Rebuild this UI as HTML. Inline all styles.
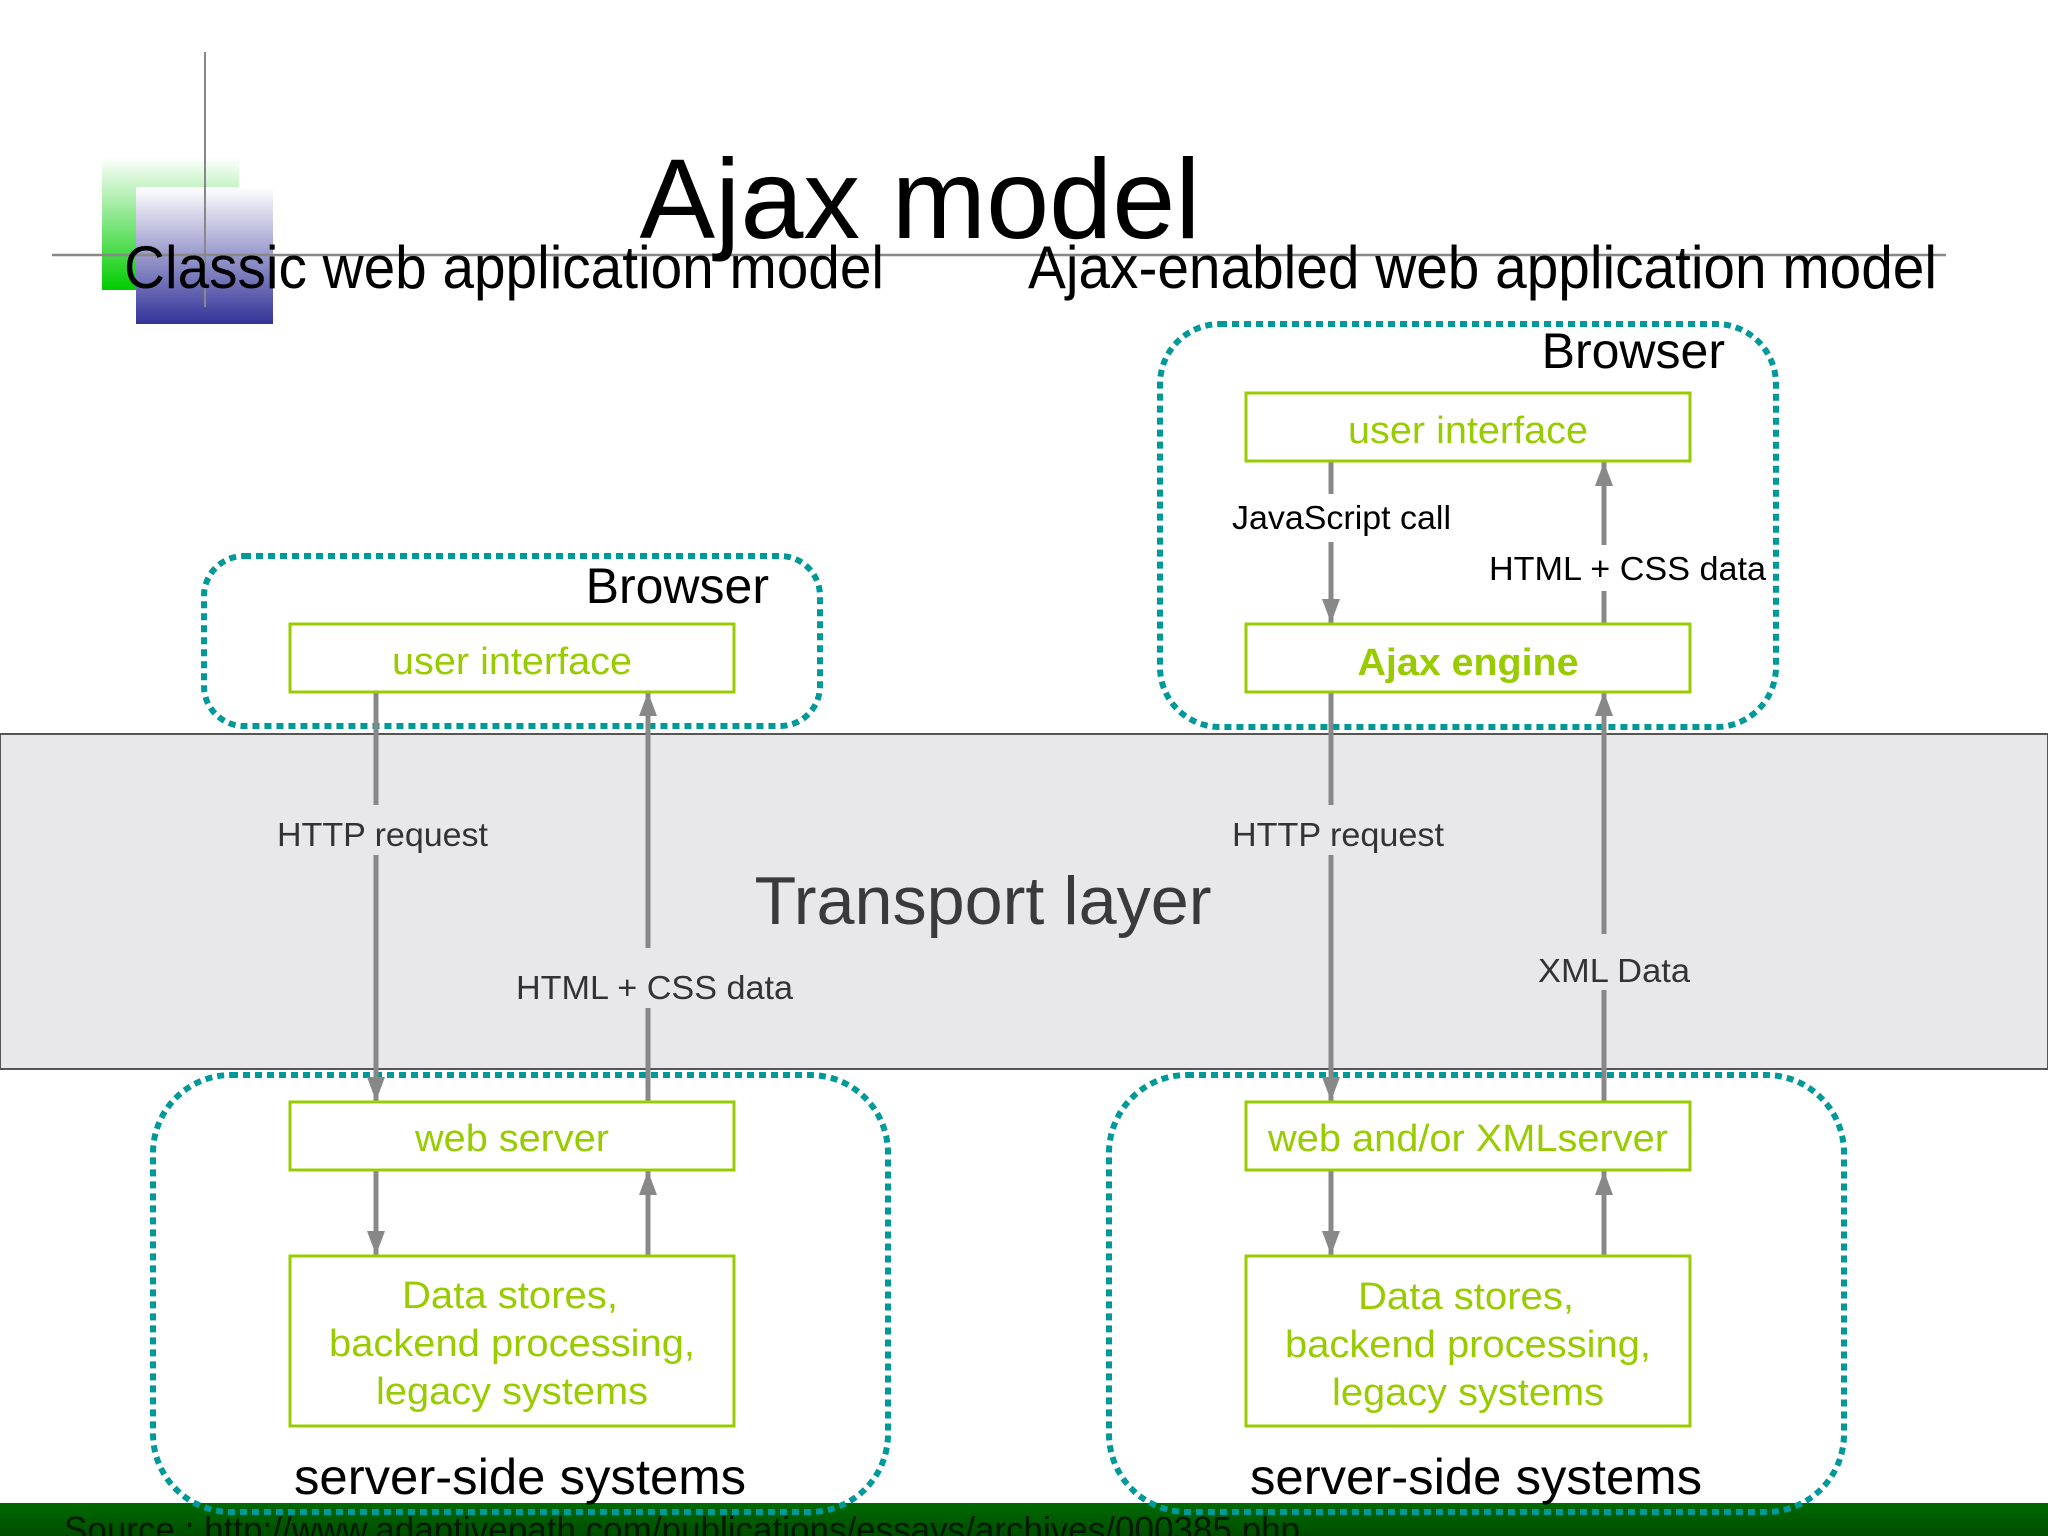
<!DOCTYPE html>
<html><head><meta charset="utf-8"><style>
html,body{margin:0;padding:0;background:#fff}
svg{display:block}
text{font-family:"Liberation Sans",sans-serif}
</style></head><body>
<svg width="2048" height="1536" viewBox="0 0 2048 1536" xmlns="http://www.w3.org/2000/svg">
<defs>
<linearGradient id="gg" x1="0" y1="0" x2="0" y2="1"><stop offset="0" stop-color="#00cc00" stop-opacity="0"/><stop offset="1" stop-color="#00cc00"/></linearGradient>
<linearGradient id="bg" x1="0" y1="0" x2="0" y2="1"><stop offset="0" stop-color="#ffffff"/><stop offset="1" stop-color="#333399"/></linearGradient>
<linearGradient id="fg" x1="0" y1="0" x2="0" y2="1"><stop offset="0" stop-color="#006a00"/><stop offset="1" stop-color="#004d00"/></linearGradient>
<marker id="ah" markerWidth="24" markerHeight="18" refX="24" refY="9" orient="auto" markerUnits="userSpaceOnUse" viewBox="0 0 24 18"><path d="M0,0 L24,9 L0,18 z" fill="#888"/></marker>
</defs>
<!-- decorations -->
<rect x="102" y="157" width="137" height="133" fill="url(#gg)"/>
<rect x="136" y="187" width="137" height="137" fill="url(#bg)"/>
<line x1="205" y1="52" x2="205" y2="307" stroke="#888" stroke-width="2"/>
<line x1="52" y1="255" x2="1946" y2="255" stroke="#888" stroke-width="2.5"/>
<text x="920" y="238" font-size="113" text-anchor="middle" textLength="561" lengthAdjust="spacingAndGlyphs">Ajax model</text>
<text x="124" y="288" font-size="60" textLength="760" lengthAdjust="spacingAndGlyphs">Classic web application model</text>
<text x="1028" y="288" font-size="60" textLength="909" lengthAdjust="spacingAndGlyphs">Ajax-enabled web application model</text>

<!-- transport layer -->
<rect x="0" y="734" width="2048" height="335" fill="#e8e7ea" stroke="#555" stroke-width="2"/>
<text x="983" y="924" font-size="68" fill="#3a3a3a" text-anchor="middle" textLength="457" lengthAdjust="spacingAndGlyphs">Transport layer</text>

<!-- footer -->
<rect x="0" y="1503" width="2048" height="33" fill="url(#fg)"/>
<text x="64" y="1542" font-size="36" fill="#001a00" textLength="1236" lengthAdjust="spacingAndGlyphs">Source  :  http://www.adaptivepath.com/publications/essays/archives/000385.php</text>

<!-- dotted groups -->
<g fill="none" stroke="#009999" stroke-width="6" stroke-dasharray="7 5">
<rect x="204" y="556" width="616" height="170" rx="40"/>
<rect x="153" y="1075" width="735" height="437" rx="78"/>
<rect x="1160" y="324" width="616" height="403" rx="60"/>
<rect x="1109" y="1075" width="735" height="437" rx="78"/>
</g>
<text x="769" y="603" font-size="50" text-anchor="end">Browser</text>
<text x="1725" y="368" font-size="50" text-anchor="end">Browser</text>

<!-- arrows -->
<g stroke="#888" stroke-width="5">
<line x1="376" y1="692" x2="376" y2="1101" marker-end="url(#ah)"/>
<line x1="648" y1="1101" x2="648" y2="692" marker-end="url(#ah)"/>
<line x1="376" y1="1170" x2="376" y2="1255" marker-end="url(#ah)"/>
<line x1="648" y1="1256" x2="648" y2="1171" marker-end="url(#ah)"/>
<line x1="1331" y1="461" x2="1331" y2="623" marker-end="url(#ah)"/>
<line x1="1604" y1="624" x2="1604" y2="462" marker-end="url(#ah)"/>
<line x1="1331" y1="692" x2="1331" y2="1101" marker-end="url(#ah)"/>
<line x1="1604" y1="1101" x2="1604" y2="692" marker-end="url(#ah)"/>
<line x1="1331" y1="1170" x2="1331" y2="1255" marker-end="url(#ah)"/>
<line x1="1604" y1="1256" x2="1604" y2="1171" marker-end="url(#ah)"/>
</g>

<!-- label backgrounds -->
<rect x="360" y="805" width="32" height="50" fill="#e8e7ea"/>
<rect x="632" y="948" width="32" height="60" fill="#e8e7ea"/>
<rect x="1315" y="805" width="32" height="50" fill="#e8e7ea"/>
<rect x="1588" y="934" width="32" height="56" fill="#e8e7ea"/>
<rect x="1315" y="494" width="32" height="48" fill="#fff"/>
<rect x="1588" y="545" width="32" height="46" fill="#fff"/>

<g font-size="33" fill="#333">
<text x="277" y="846" textLength="211" lengthAdjust="spacingAndGlyphs">HTTP request</text>
<text x="516" y="999" textLength="277" lengthAdjust="spacingAndGlyphs">HTML + CSS data</text>
<text x="1232" y="846" textLength="212" lengthAdjust="spacingAndGlyphs">HTTP request</text>
<text x="1538" y="982" textLength="152" lengthAdjust="spacingAndGlyphs">XML Data</text>
</g>
<g font-size="33" fill="#000">
<text x="1232" y="529" textLength="219" lengthAdjust="spacingAndGlyphs">JavaScript call</text>
<text x="1489" y="580" textLength="277" lengthAdjust="spacingAndGlyphs">HTML + CSS data</text>
</g>

<!-- boxes -->
<g fill="#fff" stroke="#99cc00" stroke-width="3">
<rect x="290" y="624" width="444" height="68"/>
<rect x="290" y="1102" width="444" height="68"/>
<rect x="290" y="1256" width="444" height="170"/>
<rect x="1246" y="393" width="444" height="68"/>
<rect x="1246" y="624" width="444" height="68"/>
<rect x="1246" y="1102" width="444" height="68"/>
<rect x="1246" y="1256" width="444" height="170"/>
</g>
<g font-size="38" fill="#99cc00" text-anchor="middle">
<text x="512" y="674" textLength="240" lengthAdjust="spacingAndGlyphs">user interface</text>
<text x="512" y="1151" textLength="194" lengthAdjust="spacingAndGlyphs">web server</text>
<text x="510" y="1308" textLength="216" lengthAdjust="spacingAndGlyphs">Data stores,</text>
<text x="512" y="1356" textLength="366" lengthAdjust="spacingAndGlyphs">backend processing,</text>
<text x="512" y="1404" textLength="272" lengthAdjust="spacingAndGlyphs">legacy systems</text>
<text x="1468" y="443" textLength="240" lengthAdjust="spacingAndGlyphs">user interface</text>
<text x="1468" y="675" font-weight="bold" textLength="221" lengthAdjust="spacingAndGlyphs">Ajax engine</text>
<text x="1468" y="1151" textLength="400" lengthAdjust="spacingAndGlyphs">web and/or XMLserver</text>
<text x="1466" y="1309" textLength="216" lengthAdjust="spacingAndGlyphs">Data stores,</text>
<text x="1468" y="1357" textLength="366" lengthAdjust="spacingAndGlyphs">backend processing,</text>
<text x="1468" y="1405" textLength="272" lengthAdjust="spacingAndGlyphs">legacy systems</text>
</g>
<text x="520" y="1494" font-size="50" text-anchor="middle" textLength="452" lengthAdjust="spacingAndGlyphs">server-side systems</text>
<text x="1476" y="1494" font-size="50" text-anchor="middle" textLength="452" lengthAdjust="spacingAndGlyphs">server-side systems</text>
</svg>
</body></html>
